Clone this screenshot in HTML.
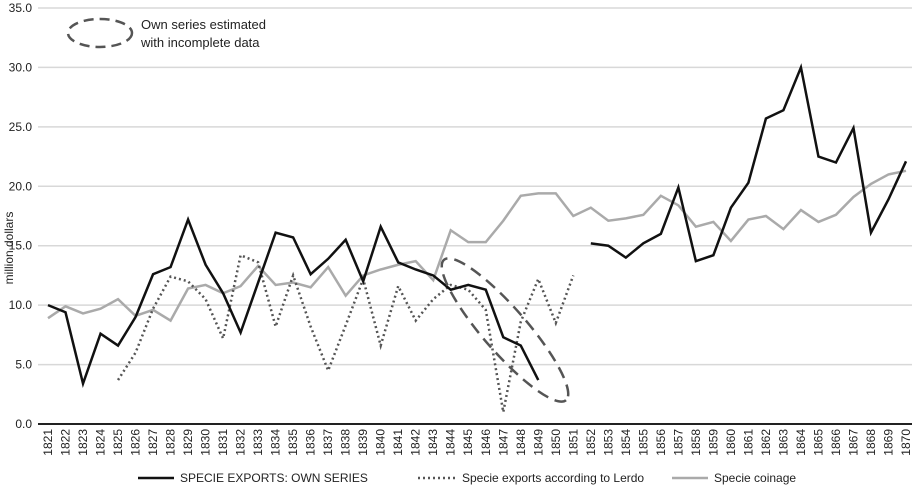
<!DOCTYPE html>
<html><head><meta charset="utf-8"><style>
body{margin:0;background:#fff;font-family:"Liberation Sans",sans-serif}
svg text{font-family:"Liberation Sans",sans-serif;fill:#222}
</style></head><body>
<svg id="chart" width="914" height="487">
<g id="grid"></g><g id="series"></g><g id="axes"></g>
<ellipse cx="505" cy="330" rx="93" ry="22" transform="rotate(49 505 330)" fill="none" stroke="#555" stroke-width="2.5" stroke-dasharray="12,7"/>
<ellipse cx="100" cy="33" rx="32" ry="14" fill="none" stroke="#555" stroke-width="2.5" stroke-dasharray="10,6"/>
<text x="141" y="29" font-size="13">Own series estimated</text>
<text x="141" y="47" font-size="13">with incomplete data</text>
<text transform="translate(13,248) rotate(-90)" text-anchor="middle" font-size="12">million dollars</text>
<g>
<line x1="138" y1="478" x2="174" y2="478" stroke="#111" stroke-width="2.5"/>
<text x="180" y="482" font-size="12">SPECIE EXPORTS: OWN SERIES</text>
<line x1="418" y1="478" x2="456" y2="478" stroke="#555" stroke-width="2.5" stroke-dasharray="2,3"/>
<text x="462" y="482" font-size="12">Specie exports according to Lerdo</text>
<line x1="672" y1="478" x2="708" y2="478" stroke="#aaa" stroke-width="2.5"/>
<text x="714" y="482" font-size="12">Specie coinage</text>
</g>
</svg>
<script>
const years=[];for(let y=1821;y<=1870;y++)years.push(y);
const yTicks=[0,5,10,15,20,25,30,35];
const ownSeries=[10.0,9.4,3.4,7.6,6.6,9.0,12.6,13.2,17.2,13.4,11.0,7.7,11.9,16.1,15.7,12.6,13.9,15.5,12.0,16.6,13.6,13.0,12.5,11.3,11.7,11.3,7.3,6.6,3.7,null,null,15.2,15.0,14.0,15.2,16.0,19.9,13.7,14.2,18.2,20.3,25.7,26.4,30.0,22.5,22.0,24.9,16.1,18.9,22.1];
const lerdo=[null,null,null,null,3.7,6.0,9.7,12.4,12.0,10.5,7.2,14.2,13.6,8.2,12.5,8.2,4.5,8.3,12.2,6.6,11.6,8.7,10.5,11.7,11.3,9.6,1.0,8.6,12.2,8.5,12.5];
const coinage=[8.9,9.9,9.3,9.7,10.5,9.1,9.6,8.7,11.4,11.7,11.0,11.6,13.3,11.7,11.9,11.5,13.2,10.8,12.5,13.0,13.4,13.7,12.1,16.3,15.3,15.3,17.1,19.2,19.4,19.4,17.5,18.2,17.1,17.3,17.6,19.2,18.4,16.6,17.0,15.4,17.2,17.5,16.4,18.0,17.0,17.6,19.1,20.2,21.0,21.3];
const NS="http://www.w3.org/2000/svg";
const x0=48,x1=906,yTop=8,yBot=424;
const xs=i=>x0+i*(x1-x0)/(years.length-1);
const ys=v=>yBot-v*(yBot-yTop)/35;
function mk(t,a,p){const e=document.createElementNS(NS,t);for(const k in a)e.setAttribute(k,a[k]);p.appendChild(e);return e;}
const grid=document.getElementById('grid'),axes=document.getElementById('axes'),ser=document.getElementById('series');
yTicks.forEach(v=>{
 const l=mk('line',{x1:38,x2:912,y1:ys(v),y2:ys(v),stroke:v===0?'#222':'#d8d8d8','stroke-width':v===0?2:1.5},grid);
 
 
 const t=mk('text',{x:32,y:ys(v)+4,'text-anchor':'end','font-size':12},axes);
 t.textContent=v.toFixed(1);
 
 
});
years.forEach((y,i)=>{
 const t=mk('text',{transform:`translate(${xs(i)+4},${429}) rotate(-90)`,'text-anchor':'end','font-size':12},axes);
 t.textContent=y;
 
 
});
function draw(arr,style,name){
 let segs=[],cur=[];
 arr.forEach((v,i)=>{if(v==null){if(cur.length)segs.push(cur);cur=[];}else cur.push(xs(i)+','+ys(v));});
 if(cur.length)segs.push(cur);
 segs.forEach(s=>{
  const p=mk('polyline',Object.assign({points:s.join(' '),fill:'none','stroke-linejoin':'miter'},style),ser);
  
  
 });
}
draw(coinage,{stroke:'#aaa','stroke-width':2.5},'coinage-line');
draw(lerdo,{stroke:'#555','stroke-width':2.5,'stroke-dasharray':'2,3'},'lerdo-line');
draw(ownSeries,{stroke:'#111','stroke-width':2.5},'own-series-line');
</script>
</body></html>
